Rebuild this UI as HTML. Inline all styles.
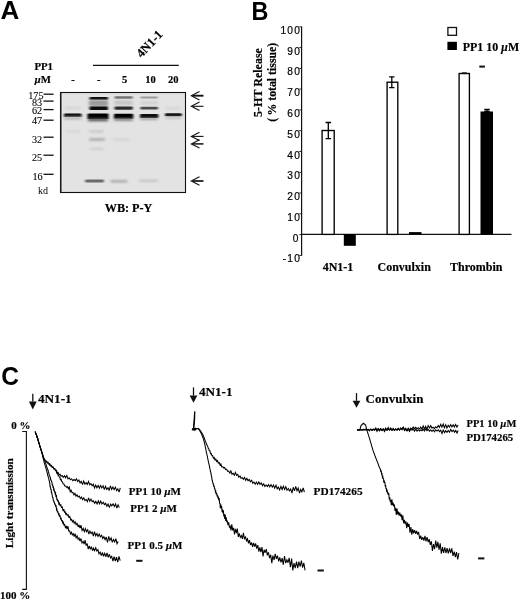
<!DOCTYPE html>
<html><head><meta charset="utf-8"><style>
html,body{margin:0;padding:0;background:#fff;}
body{width:520px;height:601px;overflow:hidden;}
svg{display:block;will-change:transform;}
</style></head><body>
<svg width="520" height="601" viewBox="0 0 520 601">
<text x="0" y="0" font-family="Liberation Sans" font-size="26" font-weight="bold" text-anchor="start" transform="translate(0.6,19.3) scale(1.0,1)">A</text>
<text x="0" y="0" font-family="Liberation Sans" font-size="25.5" font-weight="bold" text-anchor="start" transform="translate(251.4,19.5) scale(0.92,1)">B</text>
<text x="0" y="0" font-family="Liberation Sans" font-size="25.8" font-weight="bold" text-anchor="start" transform="translate(1.3,384.6) scale(0.95,1)">C</text>
<text x="34.4" y="70" font-family="Liberation Serif" font-size="10.8" font-weight="bold" text-anchor="start"  stroke="#000" stroke-width="0.18">PP1</text>
<text x="34.4" y="82.5" font-family="Liberation Serif" font-size="10.8" font-weight="bold" text-anchor="start"  stroke="#000" stroke-width="0.18"><tspan font-style="italic">µ</tspan>M</text>
<text x="72.9" y="83" font-family="Liberation Serif" font-size="10.5" font-weight="bold" text-anchor="middle"  stroke="#000" stroke-width="0.18">-</text>
<text x="98.8" y="83" font-family="Liberation Serif" font-size="10.5" font-weight="bold" text-anchor="middle"  stroke="#000" stroke-width="0.18">-</text>
<text x="124.6" y="83" font-family="Liberation Serif" font-size="10.5" font-weight="bold" text-anchor="middle"  stroke="#000" stroke-width="0.18">5</text>
<text x="150.6" y="83" font-family="Liberation Serif" font-size="10.5" font-weight="bold" text-anchor="middle"  stroke="#000" stroke-width="0.18">10</text>
<text x="173.3" y="83" font-family="Liberation Serif" font-size="10.5" font-weight="bold" text-anchor="middle"  stroke="#000" stroke-width="0.18">20</text>
<line x1="93" y1="65.3" x2="178.8" y2="65.3" stroke="#111" stroke-width="1.2"/>
<text x="0" y="0" font-family="Liberation Serif" font-size="12.5" font-weight="bold" text-anchor="start" transform="translate(141.5,58.3) rotate(-47)" stroke="#000" stroke-width="0.18">4N1-1</text>
<defs><filter id="b1" x="-20%" y="-200%" width="140%" height="500%"><feGaussianBlur stdDeviation="0.9 0.7"/></filter><filter id="b2" x="-20%" y="-200%" width="140%" height="500%"><feGaussianBlur stdDeviation="1.5 1.2"/></filter></defs>
<rect x="60.5" y="92.5" width="125" height="100" fill="#e3e3e3" stroke="#111" stroke-width="1.1"/>
<line x1="61.2" y1="92.5" x2="61.2" y2="192.5" stroke="#333" stroke-width="0.8"/>
<rect x="64" y="113.5" width="17.5" height="3.4" rx="1.0" fill="#080808" filter="url(#b1)"/>
<rect x="64" y="116.7" width="17.5" height="3" rx="1.0" fill="#bababa" filter="url(#b2)"/>
<rect x="65" y="106.8" width="15" height="2.5" rx="1.0" fill="#d2d2d2" filter="url(#b2)"/>
<rect x="65" y="130.5" width="15" height="2" rx="1.0" fill="#d3d3d3" filter="url(#b2)"/>
<rect x="89.5" y="96.9" width="18.5" height="2.8" rx="1.0" fill="#111" filter="url(#b1)"/>
<rect x="89" y="100.0" width="19" height="6.5" rx="1.0" fill="#9c9c9c" filter="url(#b2)"/>
<rect x="89.5" y="106.5" width="18.5" height="3.4" rx="1.0" fill="#0d0d0d" filter="url(#b1)"/>
<rect x="87.5" y="113.5" width="21.0" height="5.4" rx="1.0" fill="#000" filter="url(#b1)"/>
<rect x="88" y="118.3" width="20" height="3" rx="1.0" fill="#555" filter="url(#b2)"/>
<rect x="89" y="130.5" width="14.5" height="2" rx="1.0" fill="#c2c2c2" filter="url(#b2)"/>
<rect x="89" y="138.2" width="16" height="2.6" rx="1.0" fill="#a8a8a8" filter="url(#b2)"/>
<rect x="90" y="147.8" width="14" height="2" rx="1.0" fill="#cacaca" filter="url(#b2)"/>
<rect x="85" y="179.4" width="19" height="3.2" rx="1.0" fill="#6a6a6a" filter="url(#b1)"/>
<rect x="114.5" y="96.2" width="18.30000000000001" height="2.6" rx="1.0" fill="#727272" filter="url(#b1)"/>
<rect x="114.5" y="100.3" width="18.30000000000001" height="5.0" rx="1.0" fill="#c6c6c6" filter="url(#b2)"/>
<rect x="114.5" y="106.6" width="18.30000000000001" height="3.2" rx="1.0" fill="#2c2c2c" filter="url(#b1)"/>
<rect x="114" y="113.8" width="19.19999999999999" height="5" rx="1.0" fill="#050505" filter="url(#b1)"/>
<rect x="114" y="118.2" width="19" height="2.5" rx="1.0" fill="#777" filter="url(#b2)"/>
<rect x="113" y="138.5" width="17" height="2" rx="1.0" fill="#d0d0d0" filter="url(#b2)"/>
<rect x="110.5" y="180.0" width="17.0" height="2.4" rx="1.0" fill="#a8a8a8" filter="url(#b2)"/>
<rect x="140.3" y="96.5" width="17.69999999999999" height="2" rx="1.0" fill="#9a9a9a" filter="url(#b1)"/>
<rect x="140.3" y="106.8" width="17.69999999999999" height="2.8" rx="1.0" fill="#484848" filter="url(#b1)"/>
<rect x="140" y="114.0" width="18.30000000000001" height="4" rx="1.0" fill="#0c0c0c" filter="url(#b1)"/>
<rect x="140" y="118.0" width="18" height="2" rx="1.0" fill="#999" filter="url(#b2)"/>
<rect x="140.3" y="100.8" width="17.69999999999999" height="4" rx="1.0" fill="#d4d4d4" filter="url(#b2)"/>
<rect x="139" y="179.6" width="19" height="2.4" rx="1.0" fill="#c6c6c6" filter="url(#b2)"/>
<rect x="165" y="113.3" width="16.80000000000001" height="3.0" rx="1.0" fill="#141414" filter="url(#b1)"/>
<rect x="165" y="117.0" width="16.80000000000001" height="2" rx="1.0" fill="#c0c0c0" filter="url(#b2)"/>
<rect x="165" y="107.4" width="16" height="1.8" rx="0.9" fill="#d0d0d0" filter="url(#b2)"/>
<text x="28.2" y="98.8" font-family="Liberation Serif" font-size="10.2" font-weight="normal" text-anchor="start" stroke="#000" stroke-width="0.1">175</text>
<line x1="43.5" y1="94.2" x2="53.6" y2="94.2" stroke="#111" stroke-width="1.3"/>
<text x="31.9" y="106.3" font-family="Liberation Serif" font-size="10.2" font-weight="normal" text-anchor="start" stroke="#000" stroke-width="0.1">83</text>
<line x1="43.5" y1="101.1" x2="53.6" y2="101.1" stroke="#111" stroke-width="1.3"/>
<text x="31.9" y="114.4" font-family="Liberation Serif" font-size="10.2" font-weight="normal" text-anchor="start" stroke="#000" stroke-width="0.1">62</text>
<line x1="43.5" y1="109.6" x2="53.6" y2="109.6" stroke="#111" stroke-width="1.3"/>
<text x="31.9" y="124.3" font-family="Liberation Serif" font-size="10.2" font-weight="normal" text-anchor="start" stroke="#000" stroke-width="0.1">47</text>
<line x1="43.5" y1="120.2" x2="53.6" y2="120.2" stroke="#111" stroke-width="1.3"/>
<text x="31.9" y="142.8" font-family="Liberation Serif" font-size="10.2" font-weight="normal" text-anchor="start" stroke="#000" stroke-width="0.1">32</text>
<line x1="43.5" y1="137.2" x2="53.6" y2="137.2" stroke="#111" stroke-width="1.3"/>
<text x="31.9" y="160.9" font-family="Liberation Serif" font-size="10.2" font-weight="normal" text-anchor="start" stroke="#000" stroke-width="0.1">25</text>
<line x1="43.5" y1="155.2" x2="53.6" y2="155.2" stroke="#111" stroke-width="1.3"/>
<text x="32.5" y="179.9" font-family="Liberation Serif" font-size="10.2" font-weight="normal" text-anchor="start" stroke="#000" stroke-width="0.1">16</text>
<line x1="43.5" y1="174.3" x2="53.6" y2="174.3" stroke="#111" stroke-width="1.3"/>
<text x="38" y="193.8" font-family="Liberation Serif" font-size="10" font-weight="normal" text-anchor="start" >kd</text>
<path d="M203.5 95.7 L192.5 95.7" fill="none" stroke="#111" stroke-width="1.9"/>
<path d="M199.5 91.5 L191.3 95.7 L199.5 99.9" fill="none" stroke="#111" stroke-width="1.1"/>
<path d="M203.5 106.3 L192.5 106.3" fill="none" stroke="#111" stroke-width="1.1"/>
<path d="M199.5 102.1 L191.3 106.3 L199.5 110.5" fill="none" stroke="#111" stroke-width="1.1"/>
<path d="M203.5 136.4 L192.5 136.4" fill="none" stroke="#111" stroke-width="1.1"/>
<path d="M199.5 132.20000000000002 L191.3 136.4 L199.5 140.6" fill="none" stroke="#111" stroke-width="1.1"/>
<path d="M203.5 143.9 L192.5 143.9" fill="none" stroke="#111" stroke-width="1.5"/>
<path d="M199.5 139.70000000000002 L191.3 143.9 L199.5 148.1" fill="none" stroke="#111" stroke-width="1.1"/>
<path d="M203.5 181 L192.5 181" fill="none" stroke="#111" stroke-width="1.7"/>
<path d="M199.5 176.8 L191.3 181 L199.5 185.2" fill="none" stroke="#111" stroke-width="1.1"/>
<text x="104.7" y="212.4" font-family="Liberation Serif" font-size="12.2" font-weight="bold" text-anchor="start"  stroke="#000" stroke-width="0.18">WB: P-Y</text>
<line x1="301.6" y1="26.5" x2="301.6" y2="255.8" stroke="#111" stroke-width="1.2"/>
<line x1="301" y1="234.4" x2="511.5" y2="234.4" stroke="#111" stroke-width="1.3"/>
<line x1="299.3" y1="255.4" x2="301.6" y2="255.4" stroke="#111" stroke-width="0.9"/>
<text x="301.3" y="262.48" font-family="Liberation Sans" font-size="10.2" font-weight="normal" text-anchor="end" letter-spacing="1.3" stroke="#000" stroke-width="0.2">-10</text>
<line x1="299.3" y1="234.6" x2="301.6" y2="234.6" stroke="#111" stroke-width="0.9"/>
<text x="299.8" y="241.7" font-family="Liberation Sans" font-size="10.2" font-weight="normal" text-anchor="end" letter-spacing="1.3" stroke="#000" stroke-width="0.2">0</text>
<line x1="299.3" y1="213.8" x2="301.6" y2="213.8" stroke="#111" stroke-width="0.9"/>
<text x="301.3" y="220.92" font-family="Liberation Sans" font-size="10.2" font-weight="normal" text-anchor="end" letter-spacing="1.3" stroke="#000" stroke-width="0.2">10</text>
<line x1="299.3" y1="193.0" x2="301.6" y2="193.0" stroke="#111" stroke-width="0.9"/>
<text x="301.3" y="200.14" font-family="Liberation Sans" font-size="10.2" font-weight="normal" text-anchor="end" letter-spacing="1.3" stroke="#000" stroke-width="0.2">20</text>
<line x1="299.3" y1="172.3" x2="301.6" y2="172.3" stroke="#111" stroke-width="0.9"/>
<text x="301.3" y="179.35999999999999" font-family="Liberation Sans" font-size="10.2" font-weight="normal" text-anchor="end" letter-spacing="1.3" stroke="#000" stroke-width="0.2">30</text>
<line x1="299.3" y1="151.5" x2="301.6" y2="151.5" stroke="#111" stroke-width="0.9"/>
<text x="301.3" y="158.58" font-family="Liberation Sans" font-size="10.2" font-weight="normal" text-anchor="end" letter-spacing="1.3" stroke="#000" stroke-width="0.2">40</text>
<line x1="299.3" y1="130.7" x2="301.6" y2="130.7" stroke="#111" stroke-width="0.9"/>
<text x="301.3" y="137.79999999999998" font-family="Liberation Sans" font-size="10.2" font-weight="normal" text-anchor="end" letter-spacing="1.3" stroke="#000" stroke-width="0.2">50</text>
<line x1="299.3" y1="109.9" x2="301.6" y2="109.9" stroke="#111" stroke-width="0.9"/>
<text x="301.3" y="117.02" font-family="Liberation Sans" font-size="10.2" font-weight="normal" text-anchor="end" letter-spacing="1.3" stroke="#000" stroke-width="0.2">60</text>
<line x1="299.3" y1="89.1" x2="301.6" y2="89.1" stroke="#111" stroke-width="0.9"/>
<text x="301.3" y="96.24000000000001" font-family="Liberation Sans" font-size="10.2" font-weight="normal" text-anchor="end" letter-spacing="1.3" stroke="#000" stroke-width="0.2">70</text>
<line x1="299.3" y1="68.4" x2="301.6" y2="68.4" stroke="#111" stroke-width="0.9"/>
<text x="301.3" y="75.46000000000001" font-family="Liberation Sans" font-size="10.2" font-weight="normal" text-anchor="end" letter-spacing="1.3" stroke="#000" stroke-width="0.2">80</text>
<line x1="299.3" y1="47.6" x2="301.6" y2="47.6" stroke="#111" stroke-width="0.9"/>
<text x="301.3" y="54.680000000000014" font-family="Liberation Sans" font-size="10.2" font-weight="normal" text-anchor="end" letter-spacing="1.3" stroke="#000" stroke-width="0.2">90</text>
<line x1="299.3" y1="26.8" x2="301.6" y2="26.8" stroke="#111" stroke-width="0.9"/>
<text x="301.3" y="33.90000000000001" font-family="Liberation Sans" font-size="10.2" font-weight="normal" text-anchor="end" letter-spacing="1.3" stroke="#000" stroke-width="0.2">100</text>
<rect x="322.1" y="130.5" width="12.100000000000012" height="103.9" fill="#fff" stroke="#000" stroke-width="1.35"/>
<rect x="387.1" y="82.2" width="10.699999999999978" height="152.2" fill="#fff" stroke="#000" stroke-width="1.35"/>
<rect x="459.1" y="73.5" width="10.3" height="160.9" fill="#fff" stroke="#000" stroke-width="1.35"/>
<rect x="343.8" y="234" width="12" height="11.8" fill="#000"/>
<rect x="409" y="232.1" width="12.5" height="2.4" fill="#000"/>
<rect x="480.5" y="111.5" width="12.5" height="122.9" fill="#000"/>
<path d="M328.3 122.5 L328.3 138.6 M325.55 122.5 L331.05 122.5 M325.55 138.6 L331.05 138.6" stroke="#000" stroke-width="1.3" fill="none"/>
<path d="M391.8 76.9 L391.8 87.7 M389.15000000000003 76.9 L394.45 76.9 M389.15000000000003 87.7 L394.45 87.7" stroke="#000" stroke-width="1.3" fill="none"/>
<path d="M487 109.5 L487 111.5 M484.3 109.5 L489.7 109.5 M484.3 111.5 L489.7 111.5" stroke="#000" stroke-width="1.3" fill="none"/>
<rect x="461.8" y="72.3" width="5" height="1.8" fill="#111"/>
<rect x="479.3" y="65.6" width="5.6" height="2" fill="#111"/>
<rect x="447.9" y="27.5" width="8.6" height="7.8" fill="#fff" stroke="#111" stroke-width="1.3"/>
<rect x="447.4" y="41.8" width="9.5" height="8.2" fill="#000"/>
<text x="462.8" y="50.7" font-family="Liberation Serif" font-size="11.9" font-weight="bold" text-anchor="start"  stroke="#000" stroke-width="0.18">PP1 10 <tspan font-style="italic">µ</tspan>M</text>
<text x="0" y="0" font-family="Liberation Serif" font-size="12" font-weight="bold" text-anchor="middle" transform="translate(261.8,82.5) rotate(-90)" stroke="#000" stroke-width="0.18">5-HT Release</text>
<text x="0" y="0" font-family="Liberation Serif" font-size="11.8" font-weight="bold" text-anchor="middle" transform="translate(275.8,82.3) rotate(-90)" stroke="#000" stroke-width="0.18">(&#8201;% total tissue)</text>
<text x="322.7" y="270.8" font-family="Liberation Serif" font-size="12" font-weight="bold" text-anchor="start"  stroke="#000" stroke-width="0.18">4N1-1</text>
<text x="377.5" y="270.8" font-family="Liberation Serif" font-size="12" font-weight="bold" text-anchor="start"  stroke="#000" stroke-width="0.18">Convulxin</text>
<text x="450" y="270.8" font-family="Liberation Serif" font-size="12" font-weight="bold" text-anchor="start"  stroke="#000" stroke-width="0.18">Thrombin</text>
<line x1="32.8" y1="393.7" x2="32.8" y2="401.4" stroke="#111" stroke-width="1.3"/><path d="M28.9 401.4 L36.699999999999996 401.4 L32.8 409.6 Z" fill="#111"/>
<line x1="193.5" y1="387.4" x2="193.5" y2="395.5" stroke="#111" stroke-width="1.3"/><path d="M189.6 395.5 L197.4 395.5 L193.5 402.8 Z" fill="#111"/>
<line x1="356.5" y1="393.1" x2="356.5" y2="400.8" stroke="#111" stroke-width="1.3"/><path d="M352.65 400.8 L360.35 400.8 L356.5 407.8 Z" fill="#111"/>
<text x="38.0" y="402.6" font-family="Liberation Serif" font-size="13.2" font-weight="bold" text-anchor="start"  stroke="#000" stroke-width="0.18">4N1-1</text>
<text x="198.9" y="396.4" font-family="Liberation Serif" font-size="13.2" font-weight="bold" text-anchor="start"  stroke="#000" stroke-width="0.18">4N1-1</text>
<text x="365.6" y="402.7" font-family="Liberation Serif" font-size="13" font-weight="bold" text-anchor="start"  stroke="#000" stroke-width="0.18">Convulxin</text>
<text x="11.2" y="428.6" font-family="Liberation Serif" font-size="11" font-weight="bold" text-anchor="start"  stroke="#000" stroke-width="0.18">0 %</text>
<text x="0" y="598.9" font-family="Liberation Serif" font-size="11" font-weight="bold" text-anchor="start"  stroke="#000" stroke-width="0.18">100 %</text>
<path d="M22.2 431.5 L26.4 431.5 L26.4 589.4 L22.2 589.4" fill="none" stroke="#111" stroke-width="1.1"/>
<text x="0" y="0" font-family="Liberation Serif" font-size="11.2" font-weight="bold" text-anchor="middle" transform="translate(12.5,503.2) rotate(-90)" stroke="#000" stroke-width="0.18">Light transmission</text>
<text x="128.7" y="495.4" font-family="Liberation Serif" font-size="11" font-weight="bold" text-anchor="start"  stroke="#000" stroke-width="0.18">PP1 10 <tspan font-style="italic">µ</tspan>M</text>
<text x="130.2" y="511.9" font-family="Liberation Serif" font-size="11" font-weight="bold" text-anchor="start"  stroke="#000" stroke-width="0.18">PP1 2 <tspan font-style="italic">µ</tspan>M</text>
<text x="127.5" y="548.6" font-family="Liberation Serif" font-size="11" font-weight="bold" text-anchor="start"  stroke="#000" stroke-width="0.18">PP1 0.5 <tspan font-style="italic">µ</tspan>M</text>
<rect x="136.2" y="559.8" width="6.3" height="2" fill="#111"/>
<text x="313.6" y="495.3" font-family="Liberation Serif" font-size="11.3" font-weight="bold" text-anchor="start"  stroke="#000" stroke-width="0.18">PD174265</text>
<rect x="317.5" y="569.5" width="6.3" height="2" fill="#111"/>
<text x="466.5" y="426.6" font-family="Liberation Serif" font-size="10.5" font-weight="bold" text-anchor="start"  stroke="#000" stroke-width="0.18">PP1 10 <tspan font-style="italic">µ</tspan>M</text>
<text x="466.4" y="440.7" font-family="Liberation Serif" font-size="10.8" font-weight="bold" text-anchor="start"  stroke="#000" stroke-width="0.18">PD174265</text>
<rect x="478.1" y="557.4" width="6.3" height="2" fill="#111"/>
<ellipse cx="194.3" cy="429.3" rx="2.3" ry="1.4" fill="#000"/>
<path d="M194.7 411.6 L194.5 420 L193.6 429" stroke="#000" stroke-width="1.3" fill="none"/>
<path d="M35.2 431.6 L35.6 432.8 L36.0 434.0 L36.5 435.1 L36.9 436.3 L37.3 437.5 L37.7 438.7 L38.0 439.9 L38.4 441.1 L38.7 442.3 L39.1 443.5 L39.5 444.7 L39.8 445.9 L40.2 447.1 L40.5 448.3 L40.9 449.5 L41.3 450.6 L41.7 451.8 L42.0 453.0 L42.4 454.2 L42.8 455.4 L43.1 456.6 L43.5 457.8 L44.0 458.9 L44.7 460.0 L45.7 460.6 L46.7 461.7 L47.7 462.0 L48.7 463.1 L49.6 463.6 L50.5 465.0 L51.4 465.5 L52.2 467.1 L53.0 466.8 L53.9 468.9 L54.7 468.6 L55.5 470.4 L56.4 470.1 L57.3 472.7 L58.2 472.5 L59.1 475.0 L60.1 474.2 L61.1 476.3 L62.2 475.6 L63.3 477.3 L64.5 475.7 L65.6 477.8 L66.8 475.5 L68.0 478.9 L69.2 477.8 L70.4 479.8 L71.6 478.7 L72.8 480.7 L74.1 479.5 L75.3 480.6 L76.5 478.9 L77.7 481.5 L78.9 480.0 L80.1 482.9 L81.3 481.3 L82.5 484.6 L83.7 481.1 L84.9 484.2 L86.1 482.6 L87.3 484.4 L88.5 481.5 L89.7 484.7 L90.9 483.5 L92.1 485.7 L93.3 484.1 L94.5 487.9 L95.7 485.0 L96.9 487.8 L98.2 485.5 L99.4 488.2 L100.6 485.4 L101.8 487.9 L103.1 485.7 L104.3 489.7 L105.5 486.2 L106.7 489.4 L108.0 487.8 L109.2 490.5 L110.4 485.9 L111.7 489.5 L112.9 487.0 L114.1 489.6 L115.4 487.2 L116.6 490.7 L117.8 488.9 L119.1 492.1 L120.3 487.8" fill="none" stroke="#000" stroke-width="1.05" stroke-linejoin="miter" stroke-miterlimit="3"/>
<path d="M35.2 431.6 L35.6 432.8 L36.0 434.0 L36.5 435.1 L36.9 436.3 L37.3 437.5 L37.7 438.7 L38.0 439.9 L38.4 441.1 L38.7 442.3 L39.1 443.5 L39.5 444.7 L39.8 445.9 L40.2 447.1 L40.5 448.3 L40.9 449.5 L41.3 450.6 L41.7 451.8 L42.0 453.0 L42.4 454.2 L42.7 455.4 L43.0 456.7 L43.4 457.8 L44.0 458.9 L44.7 460.0 L45.5 460.7 L46.4 461.9 L47.3 462.5 L48.2 463.8 L49.1 464.2 L50.0 465.5 L50.9 466.0 L51.9 467.1 L52.9 467.3 L53.8 468.8 L54.7 468.8 L55.5 470.7 L56.2 471.0 L56.9 473.4 L57.5 473.4 L58.2 475.6 L58.7 475.4 L59.3 477.1 L59.9 477.2 L60.5 480.2 L61.1 478.9 L61.7 481.5 L62.4 481.6 L63.1 483.8 L63.9 484.0 L64.7 485.9 L65.6 485.9 L66.5 487.3 L67.4 486.6 L68.3 488.8 L69.3 487.0 L70.2 491.7 L71.1 490.2 L72.1 492.6 L73.0 492.6 L74.0 494.9 L75.0 493.4 L76.0 496.2 L77.0 494.7 L78.1 497.0 L79.2 496.1 L80.3 498.5 L81.4 497.0 L82.6 499.6 L83.8 497.9 L85.0 500.6 L86.2 499.3 L87.4 501.7 L88.6 497.8 L89.8 501.2 L91.0 499.1 L92.2 501.7 L93.4 500.8 L94.6 503.3 L95.8 501.4 L97.1 503.9 L98.3 500.9 L99.5 503.8 L100.7 501.1 L101.9 504.0 L103.2 502.3 L104.4 504.6 L105.6 503.3 L106.9 506.2 L108.1 504.0 L109.4 507.6 L110.6 504.1 L111.8 505.8 L113.1 503.9 L114.3 506.5 L115.6 503.9 L116.8 508.0 L118.1 504.8 L119.3 507.6" fill="none" stroke="#000" stroke-width="1.05" stroke-linejoin="miter" stroke-miterlimit="3"/>
<path d="M35.2 431.6 L35.6 432.8 L36.0 434.0 L36.5 435.1 L36.9 436.3 L37.3 437.5 L37.7 438.7 L38.0 439.9 L38.4 441.1 L38.7 442.3 L39.1 443.5 L39.5 444.7 L39.8 445.9 L40.2 447.1 L40.5 448.3 L40.9 449.5 L41.3 450.7 L41.7 451.8 L42.0 453.0 L42.4 454.2 L42.9 455.4 L43.3 456.6 L43.7 457.7 L44.2 458.9 L44.6 460.1 L45.0 461.3 L45.4 462.5 L45.8 463.6 L46.2 464.8 L46.5 466.0 L46.9 467.3 L47.3 468.3 L47.7 469.6 L48.1 470.3 L48.4 472.1 L48.8 472.9 L49.2 475.1 L49.6 475.5 L50.0 477.2 L50.3 477.4 L50.7 479.9 L51.1 479.9 L51.5 481.6 L51.9 481.8 L52.3 485.4 L52.6 484.4 L53.0 487.3 L53.4 487.0 L53.7 489.8 L54.1 489.3 L54.5 492.2 L54.9 491.4 L55.2 493.7 L55.6 493.1 L56.0 497.2 L56.4 495.0 L56.9 500.2 L57.3 498.8 L57.8 501.6 L58.3 500.4 L58.8 503.9 L59.4 503.1 L60.1 505.6 L60.8 504.8 L61.5 507.4 L62.3 507.0 L63.1 511.1 L63.8 509.1 L64.5 512.1 L65.1 511.7 L65.8 514.2 L66.5 513.4 L67.3 515.6 L68.1 514.7 L68.9 517.3 L69.8 516.5 L70.7 519.9 L71.5 519.4 L72.4 521.8 L73.3 520.4 L74.2 523.3 L75.1 521.8 L76.1 524.6 L77.0 523.4 L78.0 526.0 L79.0 525.1 L80.0 528.2 L81.0 525.1 L82.1 530.5 L83.2 528.4 L84.3 531.6 L85.4 528.6 L86.5 531.8 L87.7 529.8 L88.8 534.1 L89.9 531.1 L91.1 533.6 L92.2 532.2 L93.4 536.1 L94.5 531.6 L95.7 535.9 L96.9 533.6 L98.0 536.4 L99.2 534.0 L100.4 536.9 L101.6 535.3 L102.8 538.5 L103.9 536.7 L105.1 539.6 L106.3 537.1 L107.5 542.5 L108.7 536.3 L109.9 540.3 L111.1 538.0 L112.3 542.4 L113.5 539.5 L114.7 542.0 L115.9 538.6 L117.0 543.7 L118.2 541.5" fill="none" stroke="#000" stroke-width="1.05" stroke-linejoin="miter" stroke-miterlimit="3"/>
<path d="M35.2 431.6 L35.6 432.8 L36.0 434.0 L36.5 435.1 L36.9 436.3 L37.3 437.5 L37.7 438.7 L38.0 439.9 L38.4 441.1 L38.7 442.3 L39.1 443.5 L39.5 444.7 L39.8 445.9 L40.2 447.1 L40.6 448.3 L40.9 449.4 L41.3 450.6 L41.7 451.8 L42.1 453.0 L42.4 454.2 L42.6 455.5 L42.8 456.7 L43.1 457.9 L43.4 459.1 L43.7 460.3 L44.0 461.5 L44.3 462.8 L44.7 464.0 L45.0 465.2 L45.4 466.3 L45.7 467.7 L46.1 468.6 L46.4 470.1 L46.7 471.0 L47.1 472.9 L47.4 473.3 L47.7 475.3 L48.0 476.0 L48.4 477.8 L48.7 478.0 L48.9 480.0 L49.2 480.2 L49.5 482.4 L49.7 482.6 L50.0 485.8 L50.2 485.5 L50.4 487.9 L50.7 488.1 L50.9 490.3 L51.2 489.2 L51.4 492.5 L51.7 492.4 L52.0 494.6 L52.2 494.9 L52.5 497.8 L52.9 497.0 L53.2 500.1 L53.6 500.3 L53.9 502.4 L54.3 501.6 L54.7 504.2 L55.2 504.1 L55.6 506.6 L56.0 505.0 L56.5 509.6 L56.9 509.2 L57.4 512.4 L57.9 511.3 L58.4 514.0 L58.9 513.1 L59.4 516.6 L59.9 515.2 L60.5 518.5 L61.0 517.6 L61.6 521.2 L62.2 520.0 L62.8 523.2 L63.4 522.3 L64.0 525.2 L64.7 524.7 L65.5 528.2 L66.2 525.8 L67.0 529.2 L67.9 526.2 L68.7 530.8 L69.6 530.7 L70.5 533.9 L71.4 532.2 L72.3 534.8 L73.2 533.6 L74.2 536.6 L75.1 533.6 L76.1 537.7 L77.1 535.8 L78.1 539.3 L79.0 538.0 L80.0 541.2 L81.0 538.5 L82.0 543.0 L83.1 541.3 L84.1 544.0 L85.1 540.2 L86.1 545.6 L87.2 543.5 L88.2 549.1 L89.3 545.8 L90.3 549.4 L91.4 546.6 L92.5 550.7 L93.5 548.2 L94.6 550.6 L95.7 547.8 L96.8 551.0 L97.9 549.6 L99.0 553.7 L100.1 552.1 L101.3 555.7 L102.4 552.5 L103.5 556.3 L104.7 553.2 L105.9 556.9 L107.0 552.9 L108.2 557.4 L109.4 554.3 L110.5 557.8 L111.7 556.3 L112.9 561.2 L114.1 556.7 L115.3 561.0 L116.5 557.1 L117.7 562.1 L119.0 556.4 L120.2 560.7" fill="none" stroke="#000" stroke-width="1.05" stroke-linejoin="miter" stroke-miterlimit="3"/>
<path d="M194.6 411.8 L194.2 420.0 L193.4 429.5" fill="none" stroke="#000" stroke-width="1.05" stroke-linejoin="miter" stroke-miterlimit="3"/>
<path d="M192.0 430.3 L193.0 428.6 L194.3 429.8 L195.6 428.2 L197.0 429.0 L198.3 428.3" fill="none" stroke="#000" stroke-width="1.05" stroke-linejoin="miter" stroke-miterlimit="3"/>
<path d="M198.3 428.3 L199.1 429.3 L199.9 430.2 L200.7 431.2 L201.4 432.2 L202.1 433.3 L202.7 434.4 L203.2 435.5 L203.7 436.6 L204.2 437.8 L204.6 439.0 L205.0 440.1 L205.5 441.4 L205.9 442.4 L206.4 443.9 L206.9 444.7 L207.4 446.2 L207.9 446.9 L208.3 448.5 L208.8 448.9 L209.3 450.7 L209.9 450.8 L210.5 453.7 L211.2 453.5 L211.9 455.7 L212.6 455.6 L213.4 458.3 L214.2 457.5 L215.0 460.0 L215.8 459.0 L216.6 461.5 L217.5 460.5 L218.3 463.2 L219.2 462.6 L220.1 465.1 L220.9 463.9 L221.8 467.1 L222.8 466.6 L223.7 468.0 L224.6 467.5 L225.6 469.6 L226.6 469.1 L227.7 471.3 L228.7 471.1 L229.8 473.2 L230.9 470.9 L232.0 474.2 L233.1 473.2 L234.3 475.2 L235.4 472.4 L236.6 475.4 L237.7 474.4 L238.8 477.3 L240.0 476.0 L241.1 478.2 L242.3 477.6 L243.4 479.3 L244.6 477.5 L245.7 480.4 L246.9 478.4 L248.1 480.7 L249.2 479.4 L250.4 481.8 L251.6 480.2 L252.8 483.2 L254.0 482.0 L255.2 484.2 L256.4 482.1 L257.6 484.4 L258.8 481.9 L260.0 484.3 L261.2 482.9 L262.5 485.6 L263.7 483.9 L264.9 486.5 L266.1 485.0 L267.4 486.6 L268.6 484.6 L269.8 486.9 L271.0 484.6 L272.3 487.2 L273.5 485.0 L274.7 488.2 L276.0 485.3 L277.2 488.9 L278.4 487.1 L279.6 489.9 L280.9 486.5 L282.1 489.5 L283.3 486.2 L284.6 489.4 L285.8 486.7 L287.0 490.2 L288.3 488.5 L289.5 491.0 L290.7 489.0 L292.0 493.1 L293.2 487.3 L294.5 490.8 L295.7 486.3 L297.0 490.7 L298.2 488.1 L299.5 493.2 L300.7 489.4 L301.9 491.9 L303.2 487.8 L304.4 492.2" fill="none" stroke="#000" stroke-width="1.05" stroke-linejoin="miter" stroke-miterlimit="3"/>
<path d="M198.3 428.3 L199.0 429.4 L199.6 430.4 L200.2 431.5 L200.8 432.6 L201.3 433.8 L201.8 434.9 L202.3 436.0 L202.8 437.2 L203.2 438.4 L203.6 439.6 L203.9 440.8 L204.3 442.0 L204.5 443.2 L204.8 444.4 L205.1 445.6 L205.3 446.9 L205.6 448.1 L205.8 449.3 L206.1 450.5 L206.3 451.8 L206.6 453.0 L206.8 454.2 L207.1 455.4 L207.4 456.7 L207.6 457.9 L207.9 459.1 L208.1 460.3 L208.4 461.6 L208.7 462.8 L208.9 464.0 L209.2 465.2 L209.5 466.4 L209.7 467.6 L210.0 469.2 L210.2 469.9 L210.5 471.6 L210.7 472.0 L211.0 474.0 L211.2 474.5 L211.5 476.8 L211.8 477.0 L212.0 480.4 L212.3 479.7 L212.6 482.4 L212.8 482.0 L213.1 484.5 L213.5 483.6 L213.8 487.0 L214.2 485.7 L214.6 489.4 L215.0 488.5 L215.4 491.8 L215.8 491.4 L216.2 494.5 L216.7 492.7 L217.1 496.4 L217.5 495.1 L218.0 498.4 L218.4 496.6 L218.8 500.5 L219.2 498.1 L219.6 503.7 L220.0 503.1 L220.3 508.1 L220.8 504.4 L221.2 508.4 L221.6 506.1 L222.1 511.9 L222.5 509.2 L222.9 513.2 L223.4 510.4 L223.8 516.4 L224.3 514.0 L224.7 519.0 L225.2 514.5 L225.7 521.0 L226.2 517.4 L226.8 522.3 L227.3 520.5 L228.0 525.2 L228.7 522.3 L229.4 527.2 L230.2 526.1 L231.0 530.5 L231.8 524.3 L232.7 530.4 L233.6 527.9 L234.5 534.5 L235.4 528.9 L236.4 533.1 L237.3 528.5 L238.3 536.9 L239.3 533.4 L240.3 537.4 L241.4 535.5 L242.4 538.8 L243.4 532.9 L244.4 538.6 L245.5 537.0 L246.5 540.7 L247.5 538.8 L248.5 543.3 L249.5 540.1 L250.5 545.0 L251.6 542.5 L252.6 546.8 L253.6 542.9 L254.7 546.6 L255.7 543.5 L256.7 548.7 L257.8 545.1 L258.8 551.7 L259.9 547.4 L260.9 552.1 L262.0 547.0 L263.0 556.5 L264.1 549.8 L265.2 552.7 L266.3 549.1 L267.3 555.4 L268.4 552.3 L269.6 558.1 L270.7 554.7 L271.8 563.1 L272.9 555.7 L274.1 560.0 L275.2 553.9 L276.4 558.8 L277.5 555.6 L278.7 561.3 L279.8 557.4 L281.0 562.3 L282.2 558.2 L283.3 564.8 L284.5 556.0 L285.7 563.1 L286.9 559.8 L288.0 562.7 L289.2 557.9 L290.4 567.3 L291.6 558.6 L292.8 570.5 L294.0 563.1 L295.2 568.1 L296.5 561.6 L297.7 568.2 L298.9 561.7 L300.1 566.6 L301.4 560.7 L302.6 567.6 L303.8 562.8 L305.1 570.4" fill="none" stroke="#000" stroke-width="1.05" stroke-linejoin="miter" stroke-miterlimit="3"/>
<path d="M357.0 429.6 L358.2 429.5 L359.5 429.8 L360.7 429.5 L362.0 429.9 L363.2 429.2 L364.5 429.6 L365.7 429.0 L367.0 429.7 L368.2 429.3 L369.5 430.0 L370.7 429.4 L372.0 430.3 L373.2 429.0 L374.5 430.0 L375.7 428.0 L377.0 429.9 L378.2 428.6 L379.5 429.9 L380.7 428.5 L382.0 430.1 L383.2 428.9 L384.5 430.5 L385.7 428.0 L387.0 430.2 L388.2 427.4 L389.5 429.9 L390.7 427.9 L392.0 429.9 L393.2 428.4 L394.5 430.4 L395.7 428.7 L397.0 429.9 L398.2 428.4 L399.5 430.0 L400.7 428.1 L402.0 429.0 L403.2 427.1 L404.5 429.6 L405.7 428.1 L407.0 430.7 L408.2 428.1 L409.5 430.0 L410.7 428.1 L412.0 429.2 L413.2 427.0 L414.5 428.6 L415.7 427.3 L417.0 428.9 L418.2 427.7 L419.5 429.0 L420.7 427.1 L422.0 429.2 L423.2 425.9 L424.5 429.0 L425.7 426.4 L427.0 429.4 L428.2 425.5 L429.5 427.9 L430.7 425.7 L432.0 428.1 L433.2 427.2 L434.4 428.6 L435.7 426.7 L436.9 427.9 L438.2 425.5 L439.4 427.4 L440.7 424.4 L441.9 427.2 L443.2 424.1 L444.4 427.7 L445.7 424.7 L446.9 428.2 L448.2 425.4 L449.4 427.1 L450.7 424.7 L451.9 426.9 L453.2 424.8 L454.4 427.0 L455.6 424.4 L456.9 427.1 L458.1 424.9" fill="none" stroke="#000" stroke-width="1.05" stroke-linejoin="miter" stroke-miterlimit="3"/>
<path d="M357.0 430.0 L358.2 430.0 L359.5 430.0 L360.7 429.8 L362.0 430.1 L363.2 429.7 L364.5 430.0 L365.7 429.7 L367.0 430.1 L368.2 429.7 L369.5 430.9 L370.7 429.0 L372.0 430.4 L373.2 429.3 L374.5 430.2 L375.7 428.7 L377.0 431.4 L378.2 429.1 L379.5 430.9 L380.7 429.2 L382.0 430.7 L383.2 429.0 L384.5 431.5 L385.7 428.7 L387.0 430.4 L388.2 428.8 L389.5 430.1 L390.7 429.1 L392.0 430.5 L393.2 429.3 L394.5 430.3 L395.7 429.2 L397.0 430.3 L398.2 428.4 L399.5 430.0 L400.7 428.4 L402.0 429.9 L403.2 427.6 L404.5 430.5 L405.7 429.3 L407.0 430.8 L408.2 429.3 L409.5 431.4 L410.7 429.2 L412.0 430.3 L413.2 428.7 L414.5 431.2 L415.7 429.3 L417.0 431.1 L418.2 429.7 L419.5 431.0 L420.7 429.9 L422.0 430.8 L423.2 429.1 L424.5 431.0 L425.7 428.7 L427.0 430.6 L428.2 429.4 L429.5 431.2 L430.7 429.9 L432.0 431.5 L433.2 429.8 L434.5 431.7 L435.7 429.8 L437.0 431.1 L438.2 429.8 L439.5 431.6 L440.7 430.2 L442.0 433.5 L443.2 430.1 L444.5 432.6 L445.7 430.7 L447.0 432.4 L448.2 430.5 L449.5 432.2 L450.7 429.4 L452.0 431.6 L453.2 430.1 L454.5 432.3 L455.7 430.4 L457.0 433.0 L458.2 430.6" fill="none" stroke="#000" stroke-width="1.05" stroke-linejoin="miter" stroke-miterlimit="3"/>
<path d="M357.0 430.1 L359.8 430.1 L361.0 425.5 L363.4 423.3 L365.6 425.0 L367.0 430.6" fill="none" stroke="#000" stroke-width="1.05" stroke-linejoin="miter" stroke-miterlimit="3"/>
<path d="M367.0 430.6 L367.4 431.8 L367.8 433.0 L368.2 434.2 L368.5 435.4 L368.9 436.5 L369.3 437.7 L369.7 438.9 L370.0 440.1 L370.4 441.3 L370.7 442.5 L371.1 443.7 L371.4 444.9 L371.7 446.1 L372.1 447.3 L372.5 448.5 L372.8 449.7 L373.2 450.9 L373.6 452.1 L374.1 453.3 L374.5 454.4 L374.9 455.6 L375.4 456.8 L375.8 458.0 L376.3 459.1 L376.7 460.2 L377.2 461.5 L377.6 462.3 L378.1 464.1 L378.5 464.8 L379.0 466.6 L379.4 466.8 L379.9 468.6 L380.3 469.1 L380.7 471.2 L381.2 470.4 L381.6 474.2 L382.0 473.8 L382.4 477.2 L382.8 476.6 L383.1 479.0 L383.5 478.3 L383.8 482.6 L384.2 480.3 L384.6 482.8 L384.9 482.1 L385.3 486.6 L385.6 485.1 L386.0 488.9 L386.3 488.1 L386.7 491.9 L387.1 489.5 L387.5 493.7 L387.9 492.1 L388.3 495.0 L388.8 493.4 L389.3 499.7 L389.8 497.2 L390.3 501.9 L390.8 500.0 L391.3 505.3 L391.9 499.3 L392.5 505.1 L393.1 502.7 L393.7 506.3 L394.4 504.5 L395.0 510.9 L395.7 507.8 L396.3 514.9 L397.0 508.6 L397.7 514.3 L398.4 511.7 L399.1 515.6 L399.8 512.7 L400.6 516.5 L401.3 514.3 L402.1 520.2 L402.8 515.4 L403.6 523.1 L404.4 519.8 L405.1 524.0 L405.9 521.4 L406.7 528.3 L407.5 522.6 L408.3 526.8 L409.1 524.0 L410.0 532.7 L410.9 527.0 L411.8 534.7 L412.7 529.2 L413.6 533.3 L414.6 530.2 L415.6 533.7 L416.6 531.0 L417.6 534.6 L418.6 532.0 L419.7 539.0 L420.7 535.6 L421.8 539.8 L422.8 537.2 L423.9 540.7 L425.0 535.9 L426.0 541.4 L427.1 537.2 L428.2 542.2 L429.2 539.2 L430.3 544.8 L431.4 541.2 L432.4 551.0 L433.5 544.0 L434.6 549.2 L435.7 540.5 L436.8 547.7 L437.9 541.8 L439.0 549.8 L440.2 543.3 L441.3 553.6 L442.5 547.2 L443.6 553.0 L444.8 547.3 L446.0 553.1 L447.1 548.1 L448.3 553.5 L449.5 548.4 L450.7 553.0 L451.8 548.3 L453.0 556.0 L454.2 551.7 L455.4 557.2 L456.5 552.0 L457.7 559.5 L458.9 553.0" fill="none" stroke="#000" stroke-width="1.05" stroke-linejoin="miter" stroke-miterlimit="3"/>
</svg>
</body></html>
